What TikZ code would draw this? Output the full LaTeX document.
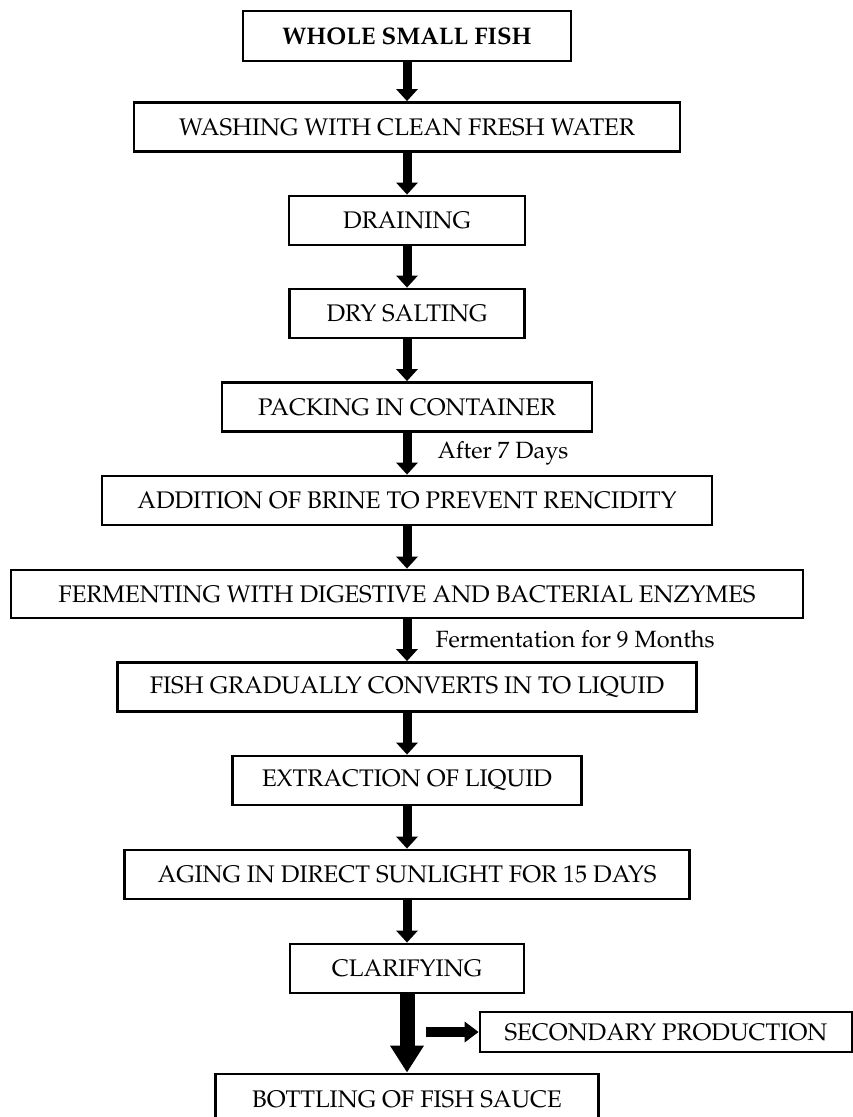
\documentclass[tikz,border=0pt]{standalone}
\usepackage[T1]{fontenc}
\renewcommand{\rmdefault}{ppl}
\usepackage{tikz}
\usetikzlibrary{positioning,arrows.meta}

\begin{document}
\begin{tikzpicture}[
    x=1pt, y=-1pt,
    font=\fontsize{24}{28}\selectfont,
    stepbox/.style={draw=black, line width=2.8pt, fill=white,
        inner sep=2pt, minimum height=49pt, align=center},
    arr/.style={line width=9pt, -{Triangle[width=21pt,length=12pt]}},
    bigarr/.style={line width=15pt, -{Triangle[width=32pt,length=27pt]}},
    sidearr/.style={line width=10pt, -{Triangle[width=20pt,length=14pt]}},
    lbl/.style={anchor=west, font=\fontsize{23.5}{27}\selectfont},
]
\useasboundingbox (0,0) rectangle (853,1117);

% === MAIN PROCESS ===
\node[stepbox, minimum width=328pt, minimum height=50pt, font=\fontsize{24}{28}\selectfont\bfseries] (fish) at (407,36) {WHOLE SMALL FISH};
\node[stepbox, minimum width=546pt] (wash) at (407,127) {WASHING WITH CLEAN FRESH WATER};
\node[stepbox, minimum width=236pt] (drain) at (407,220.5) {DRAINING};
\node[stepbox, minimum width=235pt] (salt) at (407,313.5) {DRY SALTING};
\node[stepbox, minimum width=370pt] (pack) at (407,407) {PACKING IN CONTAINER};
\node[stepbox, minimum width=610pt] (brine) at (407,500.5) {ADDITION OF BRINE TO PREVENT RENCIDITY};
\node[stepbox, minimum width=792pt, minimum height=48pt] (ferm) at (407,594) {FERMENTING WITH DIGESTIVE AND BACTERIAL ENZYMES};
\node[stepbox, minimum width=579pt] (liquid) at (407,687) {FISH GRADUALLY CONVERTS IN TO LIQUID};
\node[stepbox, minimum width=349pt] (extract) at (407,780.5) {EXTRACTION OF LIQUID};
\node[stepbox, minimum width=565pt] (aging) at (407,874.5) {AGING IN DIRECT SUNLIGHT FOR 15 DAYS};
\node[stepbox, minimum width=234pt] (clarify) at (407,968.5) {CLARIFYING};
\node[stepbox, minimum width=383pt, minimum height=50pt] (bottle) at (407,1099) {BOTTLING OF FISH SAUCE};

% Side branch
\node[stepbox, minimum width=372pt, minimum height=40pt] (second) at (666,1032) {SECONDARY PRODUCTION};
\coordinate (secstart) at (426,1032);

% Arrows
\draw[arr] (fish.south) -- (wash.north);
\draw[arr] (wash.south) -- (drain.north);
\draw[arr] (drain.south) -- (salt.north);
\draw[arr] (salt.south) -- (pack.north);
\draw[arr] (pack.south) -- (brine.north);
\draw[arr] (brine.south) -- (ferm.north);
\draw[arr] (ferm.south) -- (liquid.north);
\draw[arr] (liquid.south) -- (extract.north);
\draw[arr] (extract.south) -- (aging.north);
\draw[arr] (aging.south) -- (clarify.north);
\draw[bigarr] (clarify.south) -- (bottle.north);
\draw[sidearr] (secstart) -- (second.west);

% Time labels
\node[lbl] (days) at (434,453) {After 7 Days};
\node[lbl] (months) at (432,639) {Fermentation for 9 Months};

\end{tikzpicture}
\end{document}
